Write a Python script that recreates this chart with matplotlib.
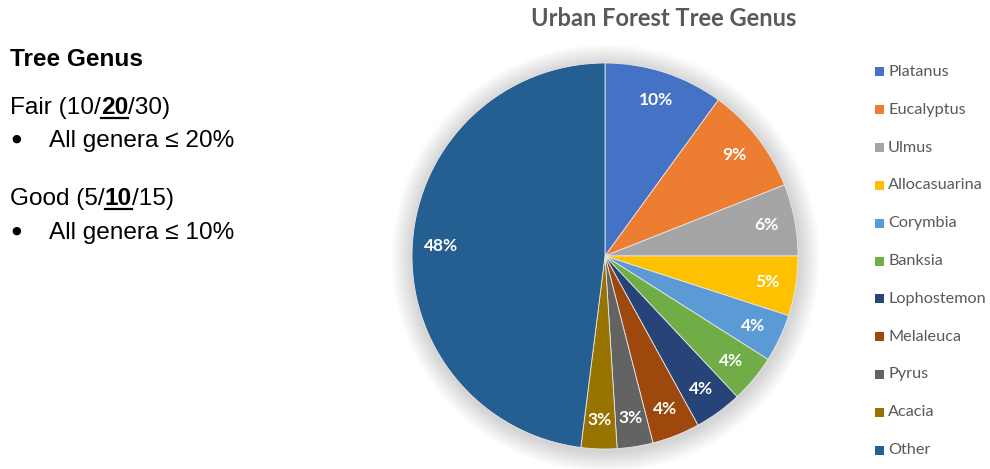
import matplotlib
matplotlib.use("Agg")
import matplotlib.pyplot as plt
from matplotlib.patches import Circle, Rectangle

genera = ["Platanus", "Eucalyptus", "Ulmus", "Allocasuarina", "Corymbia",
          "Banksia", "Lophostemon", "Melaleuca", "Pyrus", "Acacia", "Other"]
shares = [10, 9, 6, 5, 4, 4, 4, 4, 3, 3, 48]
colours = ["#4472C4", "#ED7D31", "#A5A5A5", "#FFC000", "#5B9BD5", "#70AD47",
           "#264478", "#9E480E", "#636363", "#997300", "#255E91"]

W, H, DPI = 990, 469, 100
fig = plt.figure(figsize=(W / DPI, H / DPI), dpi=DPI)
fig.patch.set_facecolor("white")

# pie axes: centre (605, 256) px, radius 193 px
R_PX = 193
cx, cy = 605, H - 256
lim = 1.1
side = 2 * lim * R_PX
ax = fig.add_axes([(cx - side / 2) / W, (cy - side / 2) / H, side / W, side / H])

# soft glow behind the pie
n = 22
for i in range(n):
    r = 1.0 + 0.11 * (n - i) / n
    ax.add_patch(Circle((0.004, -0.012), r, facecolor="#808080", edgecolor="none",
                        alpha=0.010, clip_on=False, zorder=0))

wedges, _, autotexts = ax.pie(
    shares, colors=colours, startangle=90, counterclock=False, radius=1.0,
    autopct=lambda p: f"{p:.0f}%", pctdistance=0.85,
    wedgeprops=dict(edgecolor="#e8e8e8", linewidth=0.6),
    textprops=dict(color="white", fontsize=12.5, fontweight="bold", family="Lato"),
)
for w in wedges:
    w.set_zorder(2)
for t in autotexts:
    t.set_zorder(3)
ax.set_xlim(-lim, lim)
ax.set_ylim(-lim, lim)
ax.set_aspect("equal")
ax.axis("off")

fig.text(664 / W, 1 - 19 / H, "Urban Forest Tree Genus", ha="center", va="center",
         fontsize=17, fontweight="bold", color="#595959", family="Lato")

# legend
legend_top, legend_step = 72, 37.8
for i, (name, col) in enumerate(zip(genera, colours)):
    y = legend_top + i * legend_step
    fig.patches.append(Rectangle((875 / W, 1 - (y + 4.5) / H), 9 / W, 9 / H,
                                 transform=fig.transFigure, facecolor=col,
                                 edgecolor="none"))
    fig.text(888 / W, 1 - y / H, name, ha="left", va="center", fontsize=11.7,
             color="#595959", family="Lato")

# notes on the left, written as runs of styled text
renderer = fig.canvas.get_renderer()


def runs(x, y, parts, size=17.6):
    for text, bold, underline in parts:
        t = fig.text(x / W, 1 - y / H, text, ha="left", va="baseline", fontsize=size,
                     fontweight="bold" if bold else "normal", color="black",
                     family="Liberation Sans")
        bb = t.get_window_extent(renderer)
        if underline:
            uy = (H - y - 3.5) / H
            fig.add_artist(plt.Line2D([bb.x0 / W, bb.x1 / W], [uy, uy], color="black",
                                      linewidth=1.6, transform=fig.transFigure))
        x = bb.x1


def bullet(y):
    fig.text(16 / W, 1 - y / H, "●", ha="center", va="center", fontsize=8,
             color="black", family="DejaVu Sans")


runs(10, 66, [("Tree Genus", True, False)])
runs(10, 114, [("Fair (10/", False, False), ("20", True, True), ("/30)", False, False)])
bullet(139)
runs(49, 147, [("All genera ≤ 20%", False, False)])
runs(10, 205, [("Good (5/", False, False), ("10", True, True), ("/15)", False, False)])
bullet(231)
runs(49, 239, [("All genera ≤ 10%", False, False)])

fig.savefig("out.png", dpi=DPI, facecolor="white")
